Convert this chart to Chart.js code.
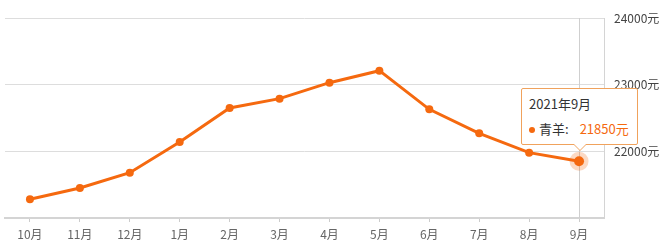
<!DOCTYPE html>
<html>
<head>
<meta charset="utf-8">
<script src="https://cdn.jsdelivr.net/npm/chart.js@4"></script>
<style>
  body { margin: 0; background: #fff; }
  #wrap { position: relative; width: 669px; height: 252px; }
  #tip {
    position: absolute; box-sizing: border-box; width: 117px; height: 57px;
    background: #fff; border: 1px solid #f0a25c; border-radius: 2px;
    font-family: "Microsoft YaHei", "Noto Sans CJK SC", sans-serif; font-size: 13px;
    color: #333; padding: 6px 0 0 7px; pointer-events: none;
  }
  #tip .t { line-height: 18px; }
  #tip .r { line-height: 18px; margin-top: 7px; }
  #tip .dot { display: inline-block; width: 6px; height: 6px; border-radius: 50%; background: #f5690f; margin: 0 4px 1px 0; vertical-align: middle; }
  #tip .v { color: #f5690f; margin-left: 11px; }
  #tip:after, #tip:before {
    content: ""; position: absolute; left: 50%; border: solid transparent;
  }
  #tip:before { top: 100%; margin-left: -7px; border-width: 7px; border-top-color: #f0a25c; }
  #tip:after { top: 100%; margin-left: -6px; border-width: 6px; border-top-color: #fff; }
</style>
</head>
<body>
<div id="wrap">
  <canvas id="myChart" width="669" height="252"></canvas>
  <div id="tip" style="display:none"></div>
</div>
<script>
const months = ["10月", "11月", "12月", "1月", "2月", "3月", "4月", "5月", "6月", "7月", "8月", "9月"];
const prices = [21280, 21450, 21680, 22140, 22650, 22790, 23030, 23210, 22630, 22270, 21980, 21850];
const yTicks = [21000, 22000, 23000, 24000];
const seriesName = "青羊";
const tipTitle = "2021年9月";

const orange = "#f5690f";
const font = "'Microsoft YaHei', 'Noto Sans CJK SC', sans-serif";

// vertical line at the hovered month
const crosshair = {
  id: "crosshair",
  beforeDatasetsDraw(chart) {
    const act = chart.getActiveElements();
    if (!act.length) return;
    const x = Math.round(act[0].element.x) + 0.5;
    const ctx = chart.ctx;
    ctx.save();
    ctx.strokeStyle = "#cfcfcf";
    ctx.lineWidth = 1;
    ctx.beginPath();
    ctx.moveTo(x, chart.chartArea.top);
    ctx.lineTo(x, chart.chartArea.bottom);
    ctx.stroke();
    ctx.restore();
  }
};

const tipEl = document.getElementById("tip");

function externalTip(context) {
  const tooltip = context.tooltip;
  if (tooltip.opacity === 0) { tipEl.style.display = "none"; return; }
  const i = tooltip.dataPoints[0].dataIndex;
  tipEl.innerHTML = `<div class="t">${tipTitle}</div>
    <div class="r"><span class="dot"></span>${seriesName}:<span class="v">${prices[i]}元</span></div>`;
  tipEl.style.display = "block";
  tipEl.style.left = (tooltip.caretX - 58) + "px";
  tipEl.style.top = (tooltip.caretY - 73) + "px";
}

const ctx1 = document.getElementById("myChart").getContext("2d");
var chart1 = new Chart(ctx1, {
  type: "line",
  data: {
    labels: months,
    datasets: [
      {
        label: seriesName,
        data: prices,
        borderColor: orange,
        backgroundColor: orange,
        borderWidth: 3,
        tension: 0,
        pointRadius: 4,
        pointBorderWidth: 0,
        pointHoverRadius: 5,
        pointHoverBorderWidth: 9,
        pointHoverBorderColor: "rgba(245,105,15,0.25)",
        pointHoverBackgroundColor: orange,
      },
    ],
  },
  options: {
    responsive: false,
    animation: false,
    events: [],
    layout: { padding: { left: 5, top: 18 } },
    scales: {
      x: {
        offset: true,
        grid: {
          offset: false,
          drawOnChartArea: false,
          drawTicks: true,
          tickLength: 4,
          color: "#cccccc",
        },
        border: { display: true, color: "#d4d4d4", width: 2 },
        ticks: {
          color: "#666",
          padding: 5,
          font: { family: font, size: 12 },
        },
        afterFit: (s) => { s.height = 34; },
      },
      y: {
        position: "right",
        min: yTicks[0],
        max: yTicks[yTicks.length - 1],
        afterBuildTicks: (s) => { s.ticks = yTicks.map(v => ({ value: v })); },
        grid: { color: "#dddddd", drawTicks: false },
        border: { display: true, color: "#d4d4d4", width: 1 },
        ticks: {
          color: "#444",
          padding: 10,
          font: { family: font, size: 12 },
          callback: (v) => (v === yTicks[0] ? "" : v + "元"),
        },
        afterFit: (s) => { s.width = 65; },
      },
    },
    plugins: {
      legend: { display: false },
      tooltip: { enabled: false, external: externalTip },
    },
  },
  plugins: [crosshair],
});

const last = prices.length - 1;
chart1.setActiveElements([{ datasetIndex: 0, index: last }]);
const pt = chart1.getDatasetMeta(0).data[last];
chart1.tooltip.setActiveElements([{ datasetIndex: 0, index: last }], { x: pt.x, y: pt.y });
chart1.update("none");
</script>
</body>
</html>
